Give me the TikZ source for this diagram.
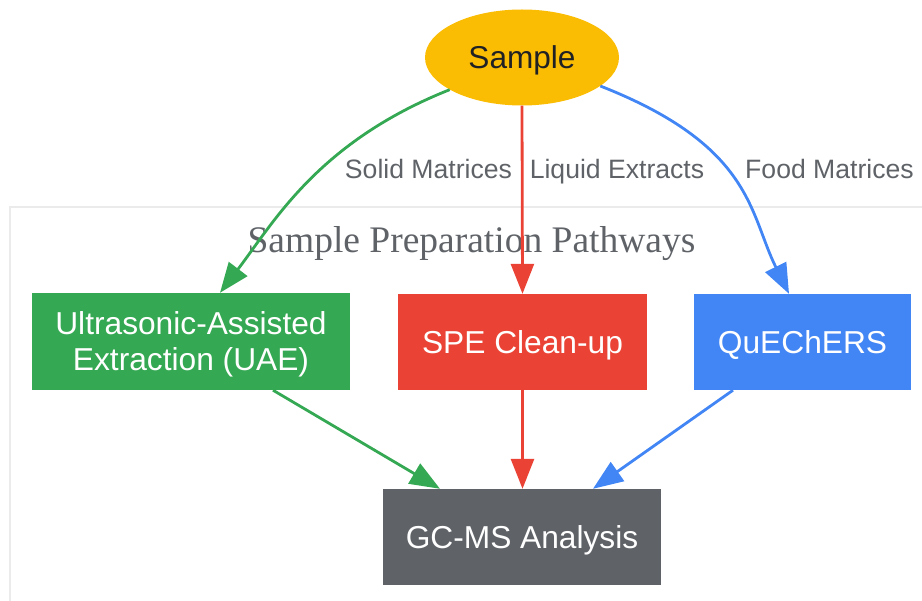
\documentclass[tikz,border=0pt]{standalone}
\usepackage{fontspec}
\setmainfont{Liberation Sans}
\newfontfamily\titlefont{Liberation Serif}
\usetikzlibrary{arrows.meta,shapes.geometric}
\definecolor{ggreen}{HTML}{34A853}
\definecolor{gred}{HTML}{EA4335}
\definecolor{gblue}{HTML}{4285F4}
\definecolor{gyellow}{HTML}{FBBC04}
\definecolor{ggray}{HTML}{5F6368}
\definecolor{gdark}{HTML}{202124}
\definecolor{clusterline}{HTML}{EBEBEB}
\tikzset{
  procbox/.style={rectangle, draw=none, inner sep=0pt, text=white,
    font=\fontsize{31.7}{36}\selectfont, text height=22.7pt, text depth=0pt},
  edgelabel/.style={text=ggray, inner sep=0pt, font=\fontsize{26.6}{30}\selectfont,
    text height=19pt, text depth=0pt},
  flow/.style={line width=2.8pt, -{Triangle[length=30pt,width=23pt]}},
}
\begin{document}
\begin{tikzpicture}[x=1pt,y=-1pt]
\useasboundingbox (0,0) rectangle (922,601);
% cluster
\draw[clusterline, line width=2pt] (10,207) rectangle (940,620);
\node[text=ggray, inner sep=0pt, font=\titlefont\fontsize{37.5}{40}\selectfont,
  text height=24.8pt, text depth=0pt] (title) at (471.5,240) {Sample Preparation Pathways};
% nodes
\node[ellipse, fill=gyellow, draw=none, inner sep=0pt, minimum width=194pt, minimum height=96pt,
  text=gdark, font=\fontsize{31.6}{36}\selectfont, text height=22.6pt, text depth=0pt] (sample) at (522,57.5) {Sample};
\node[procbox, fill=ggreen, minimum width=318pt, minimum height=97pt, text depth=36pt] (uae) at (191,341.5)
  {\begin{tabular}[t]{@{}c@{}}Ultrasonic-Assisted\\Extraction (UAE)\end{tabular}};
\node[procbox, fill=gred, minimum width=249pt, minimum height=96pt] (spe) at (522.5,342) {SPE Clean-up};
\node[procbox, fill=gblue, minimum width=217pt, minimum height=96pt] (que) at (802.5,342) {QuEChERS};
\node[procbox, fill=ggray, minimum width=278pt, minimum height=96pt] (gc) at (522,537) {GC-MS Analysis};
% edge labels
\node[edgelabel] (l1) at (428.5,169.5) {Solid Matrices};
\node[edgelabel] (l2) at (617,169.5) {Liquid Extracts};
\node[edgelabel] (l3) at (829.5,169.5) {Food Matrices};
% edges
\draw[flow, ggreen] (sample.204) .. controls (318,142) and (274,222) .. ([xshift=29pt]uae.north);
\draw[flow, gred] (sample.south) -- (spe.north);
\draw[flow, gblue] (sample.340) .. controls (753,146) and (749,213) .. ([xshift=-13.5pt]que.north);
\draw[flow, ggreen] ([xshift=82pt]uae.south) -- ([xshift=-82pt]gc.north);
\draw[flow, gred] (spe.south) -- (spe.south |- gc.north);
\draw[flow, gblue] ([xshift=-69.5pt]que.south) -- ([xshift=71pt]gc.north);
\end{tikzpicture}
\end{document}
